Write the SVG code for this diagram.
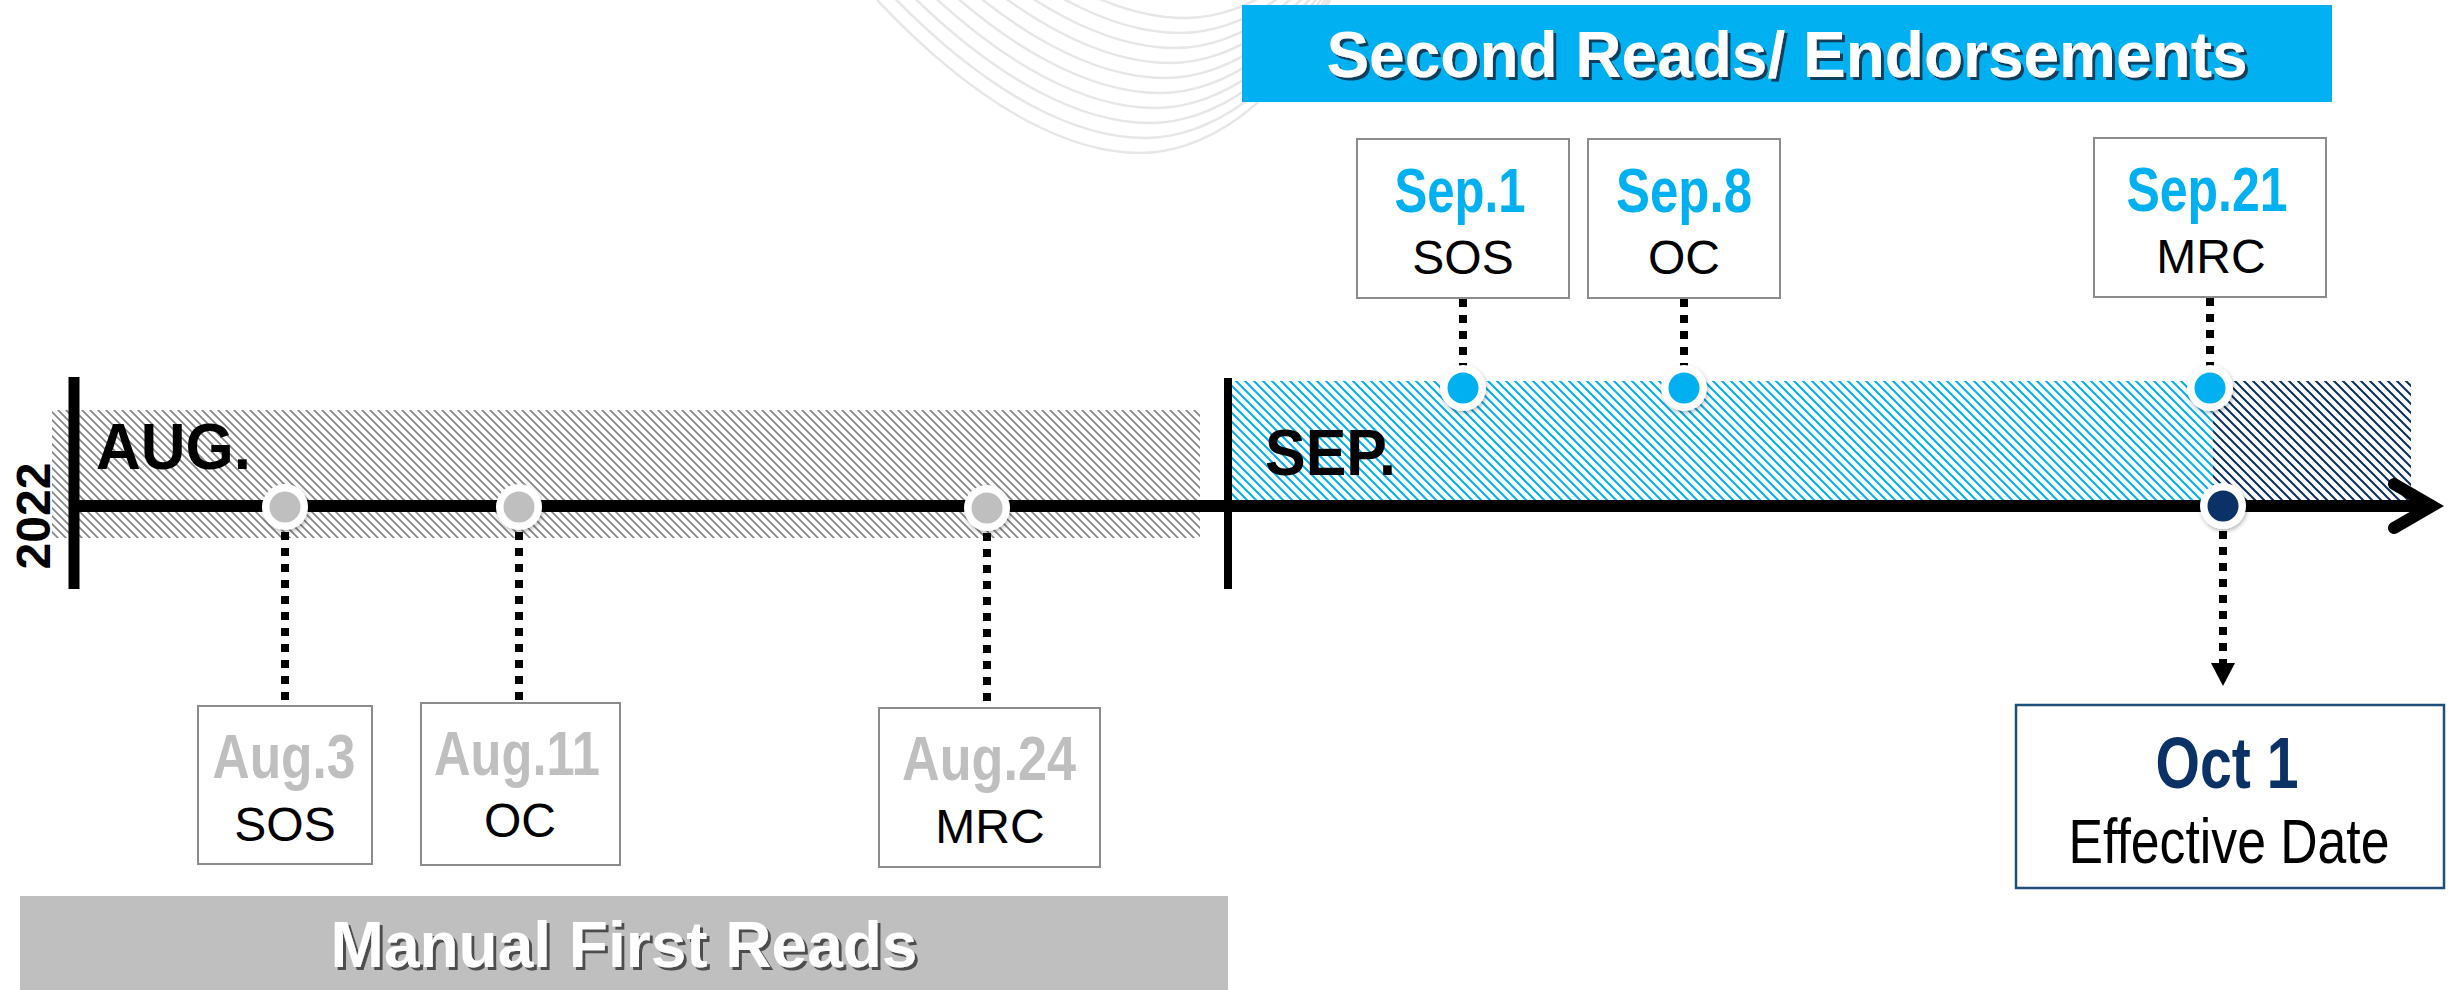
<svg xmlns="http://www.w3.org/2000/svg" width="2450" height="990" viewBox="0 0 2450 990">
<defs>
<style>
.box{fill:#fff;stroke:#8c8c8c;stroke-width:2}
.dot{stroke:#000;stroke-width:8;stroke-dasharray:8 8;fill:none}
.lbl{font-family:"Liberation Sans",Arial,sans-serif;font-size:48px;fill:#000;text-anchor:middle}
.date{font-family:"Liberation Sans Narrow","Liberation Sans",Arial,sans-serif;font-weight:bold;font-size:63px;text-anchor:middle}
.month{font-family:"Liberation Sans",Arial,sans-serif;font-weight:bold;font-size:64px;fill:#000}
.ban{font-family:"Liberation Sans",Arial,sans-serif;font-weight:bold;font-size:64px;fill:#fff;text-anchor:middle}
.ring{fill:#fff;filter:url(#sh)}
.swoosh{fill:none;stroke:#e6e6e6;stroke-width:2.5}
</style>
<pattern id="hGray" patternUnits="userSpaceOnUse" width="8" height="8">
<path d="M0,0 L8,8 M-1,7 L1,9 M7,-1 L9,1" stroke="#858585" stroke-width="1.7"/>
</pattern>
<pattern id="hBlue" patternUnits="userSpaceOnUse" width="9" height="9">
<path d="M0,0 L9,9 M-1,8 L1,10 M8,-1 L10,1" stroke="#00b0f0" stroke-width="2"/>
</pattern>
<pattern id="hNavy" patternUnits="userSpaceOnUse" width="9" height="9">
<path d="M0,0 L9,9 M-1,8 L1,10 M8,-1 L10,1" stroke="#0b2f5e" stroke-width="2"/>
</pattern>
<filter id="sh" x="-50%" y="-50%" width="200%" height="200%">
<feDropShadow dx="1" dy="2" stdDeviation="2" flood-color="#000" flood-opacity="0.3"/>
</filter>
<filter id="tsBlue" x="-5%" y="-20%" width="110%" height="150%">
<feDropShadow dx="3" dy="3" stdDeviation="0.6" flood-color="#0b3550" flood-opacity="0.9"/>
</filter>
<filter id="tsGray" x="-5%" y="-20%" width="110%" height="150%">
<feDropShadow dx="3" dy="3" stdDeviation="0.6" flood-color="#404040" flood-opacity="0.9"/>
</filter>
</defs>

<g id="background-swoosh">
<path class="swoosh" d="M877,0 C990,120 1080,153 1140,153 S1280,110 1330,0"/>
<path class="swoosh" transform="translate(5,-15)" d="M877,0 C990,120 1080,153 1140,153 S1280,110 1330,0"/>
<path class="swoosh" transform="translate(10,-30)" d="M877,0 C990,120 1080,153 1140,153 S1280,110 1330,0"/>
<path class="swoosh" transform="translate(15,-45)" d="M877,0 C990,120 1080,153 1140,153 S1280,110 1330,0"/>
<path class="swoosh" transform="translate(20,-60)" d="M877,0 C990,120 1080,153 1140,153 S1280,110 1330,0"/>
<path class="swoosh" transform="translate(25,-75)" d="M877,0 C990,120 1080,153 1140,153 S1280,110 1330,0"/>
<path class="swoosh" transform="translate(30,-90)" d="M877,0 C990,120 1080,153 1140,153 S1280,110 1330,0"/>
<path class="swoosh" transform="translate(35,-105)" d="M877,0 C990,120 1080,153 1140,153 S1280,110 1330,0"/>
<path class="swoosh" transform="translate(40,-120)" d="M877,0 C990,120 1080,153 1140,153 S1280,110 1330,0"/>
<path class="swoosh" transform="translate(45,-135)" d="M877,0 C990,120 1080,153 1140,153 S1280,110 1330,0"/>
</g>

<g id="banner-second">
<rect x="1242" y="5" width="1090" height="97" fill="#00b0f0"/>
<text class="ban" x="1787" y="77" filter="url(#tsBlue)">Second Reads/ Endorsements</text>
</g>

<g id="banner-first">
<rect x="20" y="896" width="1208" height="94" fill="#bfbfbf"/>
<text class="ban" x="624" y="967" filter="url(#tsGray)">Manual First Reads</text>
</g>

<g id="bands">
<rect x="52" y="410" width="1148" height="128" fill="url(#hGray)"/>
<rect x="1232" y="381" width="981" height="125" fill="url(#hBlue)"/>
<rect x="2213" y="381" width="198" height="125" fill="url(#hNavy)"/>
</g>

<g id="month-labels">
<text class="month" x="96" y="469" textLength="155" lengthAdjust="spacingAndGlyphs">AUG.</text>
<text class="month" x="1265" y="475" textLength="131" lengthAdjust="spacingAndGlyphs">SEP.</text>
<text class="month" text-anchor="middle" transform="translate(50,516) rotate(-90)" style="font-size:48px">2022</text>
</g>

<g id="connectors">
<line class="dot" x1="285" y1="532" x2="285" y2="706"/>
<line class="dot" x1="519" y1="532" x2="519" y2="703"/>
<line class="dot" x1="987" y1="533" x2="987" y2="708"/>
<line class="dot" x1="1463" y1="299" x2="1463" y2="366"/>
<line class="dot" x1="1684" y1="299" x2="1684" y2="366"/>
<line class="dot" x1="2210" y1="298" x2="2210" y2="366"/>
<line class="dot" x1="2223" y1="531" x2="2223" y2="665"/>
<polygon points="2211,663 2235,663 2223,686" fill="#000"/>
</g>

<g id="axis">
<line x1="74" y1="377" x2="74" y2="589" stroke="#000" stroke-width="11"/>
<line x1="1228" y1="378" x2="1228" y2="589" stroke="#000" stroke-width="8"/>
<line x1="69" y1="506" x2="2428" y2="506" stroke="#000" stroke-width="12"/>
<path d="M2394,484 L2432,506 L2394,528" fill="none" stroke="#000" stroke-width="12" stroke-linecap="round" stroke-linejoin="miter"/>
</g>

<g id="node-aug3">
<circle class="ring" cx="285" cy="507" r="23"/><circle cx="285" cy="507" r="15.5" fill="#bfbfbf"/>
<rect class="box" x="198" y="706" width="174" height="158"/>
<text class="date" x="284" y="778" fill="#bfbfbf" textLength="143" lengthAdjust="spacingAndGlyphs">Aug.3</text>
<text class="lbl" x="285" y="841">SOS</text>
</g>

<g id="node-aug11">
<circle class="ring" cx="519" cy="507" r="23"/><circle cx="519" cy="507" r="15.5" fill="#bfbfbf"/>
<rect class="box" x="421" y="703" width="199" height="162"/>
<text class="date" x="517" y="775" fill="#bfbfbf" textLength="166" lengthAdjust="spacingAndGlyphs">Aug.11</text>
<text class="lbl" x="520" y="837">OC</text>
</g>

<g id="node-aug24">
<circle class="ring" cx="987" cy="508" r="23"/><circle cx="987" cy="508" r="15.5" fill="#bfbfbf"/>
<rect class="box" x="879" y="708" width="221" height="159"/>
<text class="date" x="989" y="780" fill="#bfbfbf" textLength="174" lengthAdjust="spacingAndGlyphs">Aug.24</text>
<text class="lbl" x="990" y="843">MRC</text>
</g>

<g id="node-sep1">
<circle class="ring" cx="1463" cy="388" r="23"/><circle cx="1463" cy="388" r="15.5" fill="#00b0f0"/>
<rect class="box" x="1357" y="139" width="212" height="159"/>
<text class="date" x="1460" y="212" fill="#00b0f0" textLength="131" lengthAdjust="spacingAndGlyphs">Sep.1</text>
<text class="lbl" x="1463" y="274">SOS</text>
</g>

<g id="node-sep8">
<circle class="ring" cx="1684" cy="388" r="23"/><circle cx="1684" cy="388" r="15.5" fill="#00b0f0"/>
<rect class="box" x="1588" y="139" width="192" height="159"/>
<text class="date" x="1684" y="212" fill="#00b0f0" textLength="136" lengthAdjust="spacingAndGlyphs">Sep.8</text>
<text class="lbl" x="1684" y="274">OC</text>
</g>

<g id="node-sep21">
<circle class="ring" cx="2210" cy="388" r="23"/><circle cx="2210" cy="388" r="15.5" fill="#00b0f0"/>
<rect class="box" x="2094" y="138" width="232" height="159"/>
<text class="date" x="2207" y="211" fill="#00b0f0" textLength="161" lengthAdjust="spacingAndGlyphs">Sep.21</text>
<text class="lbl" x="2211" y="273">MRC</text>
</g>

<g id="node-oct1">
<circle class="ring" cx="2223" cy="506" r="23"/><circle cx="2223" cy="506" r="15.5" fill="#0b3266"/>
<rect x="2016" y="705" width="428" height="183" fill="#fff" stroke="#1f4e79" stroke-width="2.5"/>
<text class="date" x="2227" y="788" fill="#0b3266" style="font-size:72px" textLength="143" lengthAdjust="spacingAndGlyphs">Oct 1</text>
<text class="date" x="2229" y="863" fill="#000" style="font-weight:normal;font-size:63px" textLength="321" lengthAdjust="spacingAndGlyphs">Effective Date</text>
</g>
</svg>
